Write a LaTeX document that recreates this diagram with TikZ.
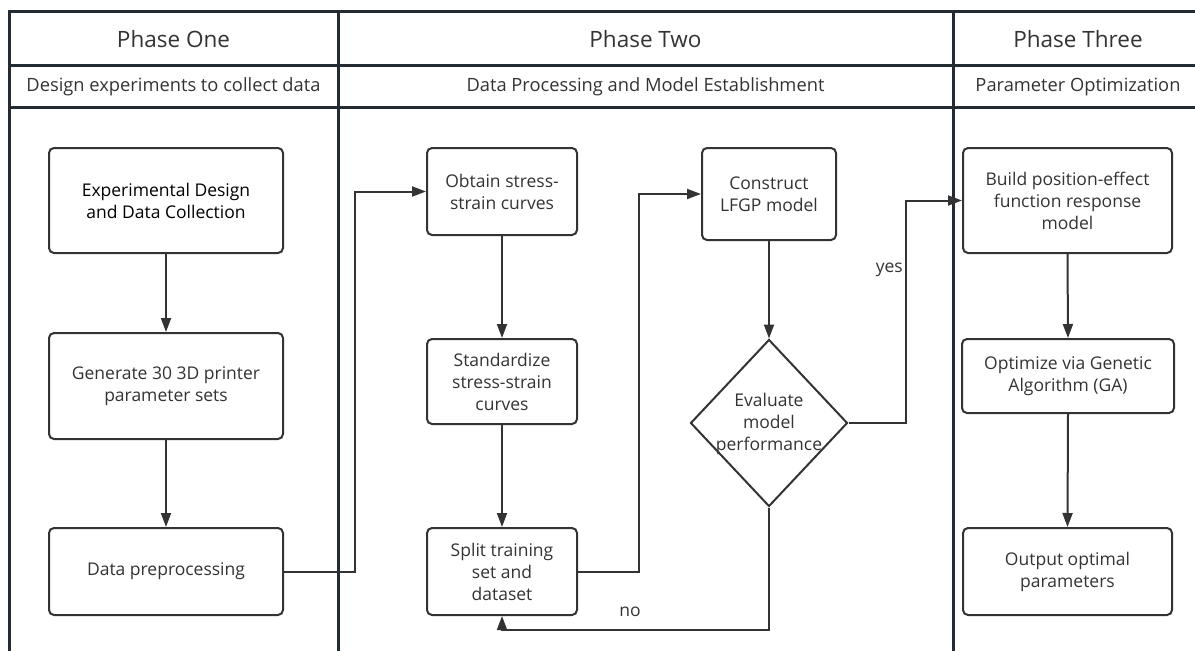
\documentclass[tikz,border=0pt]{standalone}
\usepackage{fontspec}
\setmainfont{Open Sans}
\usetikzlibrary{arrows.meta,shapes.geometric}
\definecolor{ink}{HTML}{333333}
\definecolor{lane}{HTML}{232B33}
\begin{document}
\begin{tikzpicture}[x=1pt,y=-1pt,
  box/.style={draw=ink,line width=2pt,rounded corners=5pt,fill=white,align=center,text=ink,font=\fontsize{17.5}{22}\selectfont,inner sep=0pt},
  decision/.style={draw=ink,line width=2pt,diamond,minimum width=157pt,minimum height=167pt,inner sep=0pt},
  txt/.style={text=ink,align=center,font=\fontsize{17.5}{22}\selectfont,inner sep=0pt},
  head/.style={text=ink,font=\fontsize{22.5}{26}\selectfont,inner sep=0pt},
  sub/.style={text=ink,font=\fontsize{18.3}{22}\selectfont,inner sep=0pt},
  lanel/.style={draw=lane,line width=3pt},
  arr/.style={draw=ink,line width=2pt,-{Triangle[length=14pt,width=10pt]}},
  conn/.style={draw=ink,line width=2pt}]
\useasboundingbox (0,0) rectangle (1195,651);
% lanes
\draw[lanel] (9,665) -- (9,11) -- (1210,11);
\draw[lanel] (9,65) -- (1210,65);
\draw[lanel] (9,107) -- (1210,107);
\draw[lanel] (338,11) -- (338,665);
\draw[lanel] (953,11) -- (953,665);
\node[head] (h1) at (173.5,39) {Phase One};
\node[head] (h2) at (645.5,39) {Phase Two};
\node[head] (h3) at (1078,39) {Phase Three};
\node[sub] (s1) at (173.5,87) {Design experiments to collect data};
\node[sub] (s2) at (645.5,87) {Data Processing and Model Establishment};
\node[sub] (s3) at (1078,87) {Parameter Optimization};
% phase one
\node[box,minimum width=234pt,minimum height=105pt,text=black] (b1) at (166,200.5) {Experimental Design\\and Data Collection};
\node[box,minimum width=234pt,minimum height=106pt] (b2) at (166,386) {Generate 30 3D printer\\parameter sets};
\node[box,minimum width=234pt,minimum height=87pt] (b3) at (166,571.5) {Data preprocessing};
% phase two
\node[box,minimum width=150pt,minimum height=87pt] (obtain) at (502,191.5) {Obtain stress-\\strain curves};
\node[box,minimum width=150pt,minimum height=85pt] (std) at (502,381.5) {Standardize\\stress-strain\\curves};
\node[box,minimum width=150pt,minimum height=87pt] (split) at (502,571.5) {Split training\\set and\\dataset};
\node[box,minimum width=134pt,minimum height=92pt] (construct) at (769,194) {Construct\\LFGP model};
\node[decision] (eval) at (769,423) {};
\node[txt] (evaltxt) at (769,424) {Evaluate\\model\\performance};
% phase three
\node[box,minimum width=209pt,minimum height=105pt] (build) at (1067.5,200.5) {Build position-effect\\function response\\model};
\node[box,minimum width=212pt,minimum height=74pt] (opt) at (1068,376) {Optimize via Genetic\\Algorithm (GA)};
\node[box,minimum width=209pt,minimum height=87pt] (out) at (1067.5,571.5) {Output optimal\\parameters};
% connectors
\draw[arr] (b1.south) -- (b2.north);
\draw[arr] (b2.south) -- (b3.north);
\coordinate (c1) at (355,571.5);
\draw[arr] (b3.east) -- (c1) |- (obtain.west);
\draw[arr] (obtain.south) -- (std.north);
\draw[arr] (std.south) -- (split.north);
\coordinate (c2) at (639,571.5);
\draw[arr] (split.east) -- (c2) |- (construct.west);
\draw[arr] (construct.south) -- (eval.north);
\coordinate (c3) at (906,423);
\draw[arr] (eval.east) -- (c3) |- (build.west);
\node[txt,anchor=east] (yes) at (903,270) {yes};
\coordinate (c4) at (769,630);
\draw[arr] (eval.south) -- (c4) -| (split.south);
\node[txt] (no) at (630,612) {no};
\draw[arr] (build.south) -- (opt.north);
\draw[arr] (opt.south) -- (out.north);
\end{tikzpicture}
\end{document}
